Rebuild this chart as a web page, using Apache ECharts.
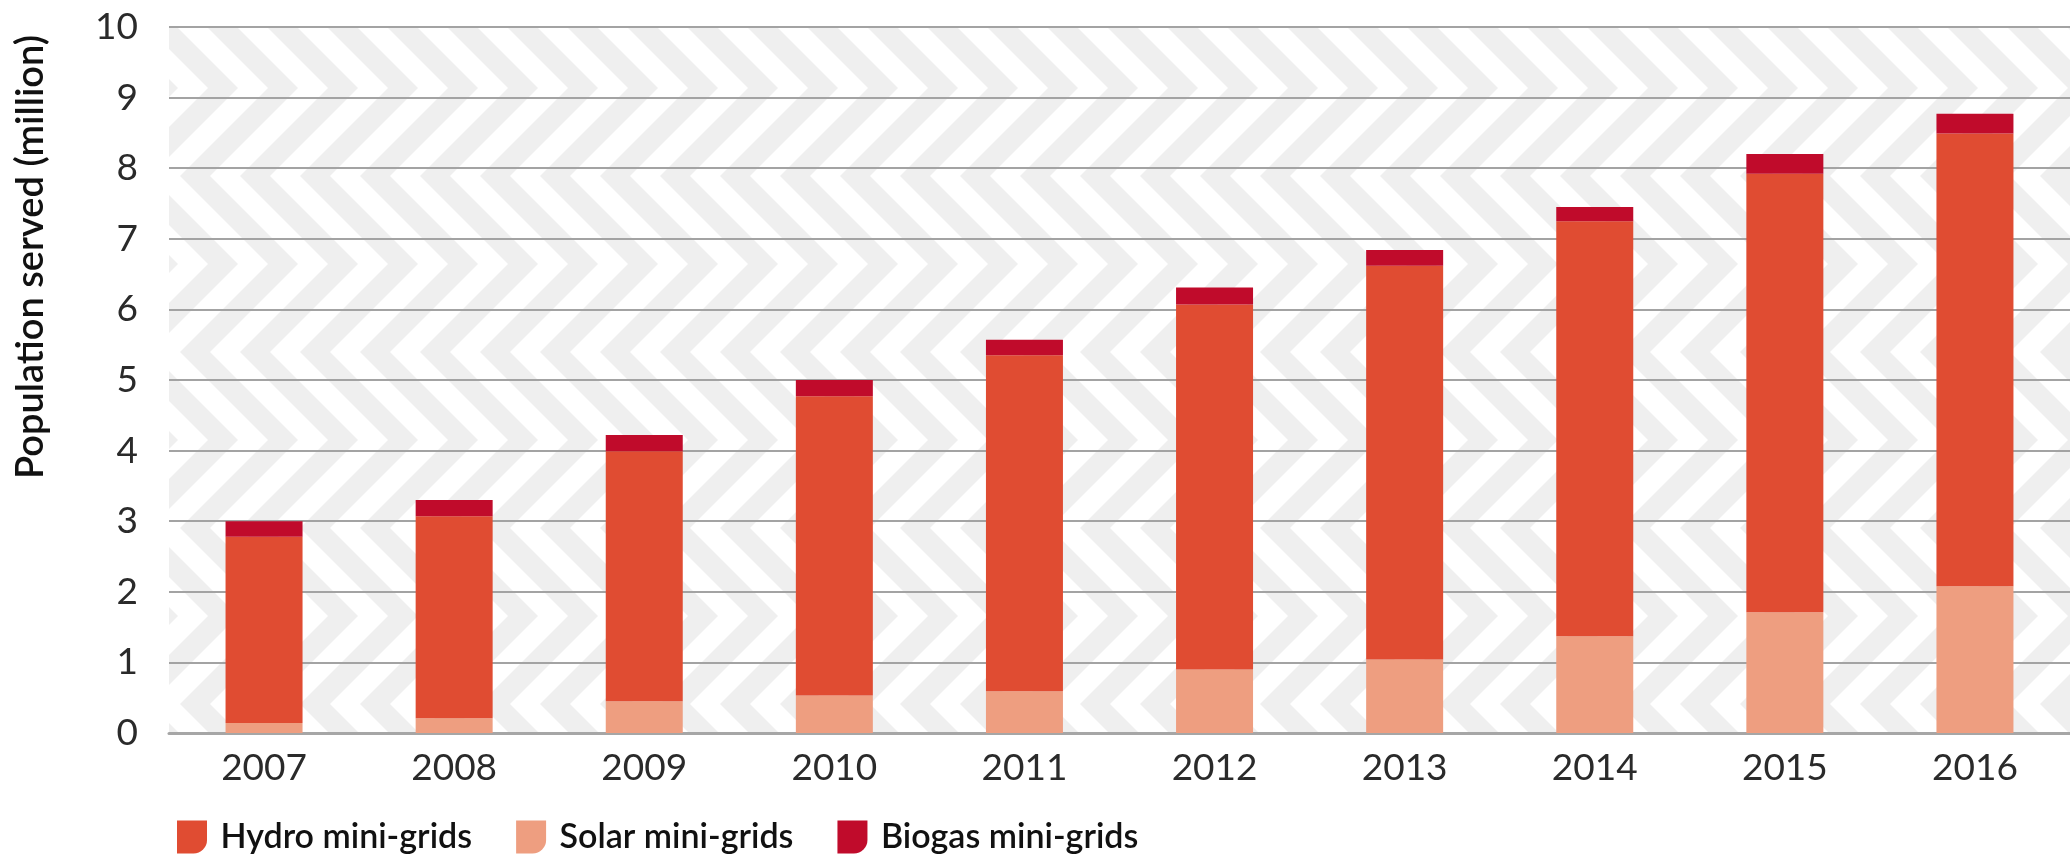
<!DOCTYPE html>
<html>
<head>
<meta charset="utf-8">
<title>Mini-grid population served</title>
<script src="https://cdn.jsdelivr.net/npm/echarts@6/dist/echarts.min.js"></script>
<style>
  html, body {
    margin: 0;
    padding: 0;
    background: #fff;
  }

  #chart {
    width: 2070px;
    height: 856px;
  }
</style>
</head>
<body>
<div id="chart"></div>
<script>
// categories and values (million people)
const years = ["2007", "2008", "2009", "2010", "2011", "2012", "2013", "2014", "2015", "2016"];
const solar = [0.14, 0.21, 0.45, 0.53, 0.59, 0.90, 1.04, 1.37, 1.71, 2.08];
const hydro = [2.64, 2.86, 3.54, 4.24, 4.76, 5.17, 5.58, 5.88, 6.21, 6.41];
const biogas = [0.22, 0.23, 0.23, 0.23, 0.22, 0.24, 0.22, 0.20, 0.28, 0.28];
const yTicks = [0, 1, 2, 3, 4, 5, 6, 7, 8, 9, 10];

const legendNames = ["Hydro mini-grids", "Solar mini-grids", "Biogas mini-grids"];
const yTitle = "Population served (million)";

// background zigzag tile, light grey bands
function makePattern() {
  const amp = 88;
  const tile = document.createElement("canvas");
  tile.width = 120;
  tile.height = amp * 4;
  const ctx = tile.getContext("2d");

  ctx.fillStyle = "#ffffff";
  ctx.fillRect(0, 0, tile.width, tile.height);
  ctx.fillStyle = "#efefef";
  for (let x0 = -240; x0 <= 240; x0 += 60) {
    ctx.beginPath();
    ctx.moveTo(x0, 0);
    ctx.lineTo(x0 + amp, amp);
    ctx.lineTo(x0, amp * 2);
    ctx.lineTo(x0 + amp, amp * 3);
    ctx.lineTo(x0, amp * 4);
    ctx.lineTo(x0 + 30, amp * 4);
    ctx.lineTo(x0 + 30 + amp, amp * 3);
    ctx.lineTo(x0 + 30, amp * 2);
    ctx.lineTo(x0 + 30 + amp, amp);
    ctx.lineTo(x0 + 30, 0);
    ctx.closePath();
    ctx.fill();
  }
  return tile;
}

const chart = echarts.init(document.getElementById("chart"), null, { renderer: "canvas" });

const option = {
  animation: false,
  color: ["#e04c32", "#ee9e80", "#c00b2b"],
  textStyle: {
    fontFamily: "Lato, 'Noto Sans', sans-serif",
  },
  grid: {
    left: 169,
    top: 27,
    width: 1908,
    height: 706,
    show: true,
    borderWidth: 0,
    backgroundColor: { image: makePattern(), repeat: "repeat" },
  },
  legend: {
    data: legendNames,
    left: 172,
    top: 815,
    itemWidth: 31,
    itemHeight: 33,
    itemGap: 44,
    icon: "path://M0,0 L10,0 L10,6.5 A4.5,4.5 0 0 1 5.5,11 L0,11 Z",
    textStyle: {
      fontSize: 34,
      fontWeight: 600,
      color: "#111",
      padding: [0, 0, 0, 8],
    },
  },
  graphic: [
    {
      type: "text",
      x: 31,
      y: 257,
      rotation: Math.PI / 2,
      style: {
        text: yTitle,
        fill: "#111",
        font: "600 38px Lato, 'Noto Sans', sans-serif",
        align: "center",
        verticalAlign: "middle",
      },
    }
  ],
  xAxis: {
    type: "category",
    data: years,
    axisLine: {
      lineStyle: { color: "#a6a6a6", width: 3 },
    },
    axisTick: { show: false },
    axisLabel: {
      fontSize: 37,
      color: "#2a2a2a",
      margin: 17,
    },
  },
  yAxis: {
    type: "value",
    min: yTicks[0],
    max: yTicks[yTicks.length - 1],
    interval: 1,
    axisLine: { show: false },
    axisTick: { show: false },
    axisLabel: {
      fontSize: 37,
      color: "#2a2a2a",
      margin: 31,
    },
    splitLine: {
      lineStyle: { color: "#a3a3a3", width: 2 },
    },
  },
  series: [
    {
      name: "Solar mini-grids",
      type: "bar",
      stack: "pop",
      barWidth: 77,
      itemStyle: { color: "#ee9e80" },
      data: solar,
    },
    {
      name: "Hydro mini-grids",
      type: "bar",
      stack: "pop",
      barWidth: 77,
      itemStyle: { color: "#e04c32" },
      data: hydro,
    },
    {
      name: "Biogas mini-grids",
      type: "bar",
      stack: "pop",
      barWidth: 77,
      itemStyle: { color: "#c00b2b" },
      data: biogas,
    }
  ],
};

chart.setOption(option);
</script>
</body>
</html>
